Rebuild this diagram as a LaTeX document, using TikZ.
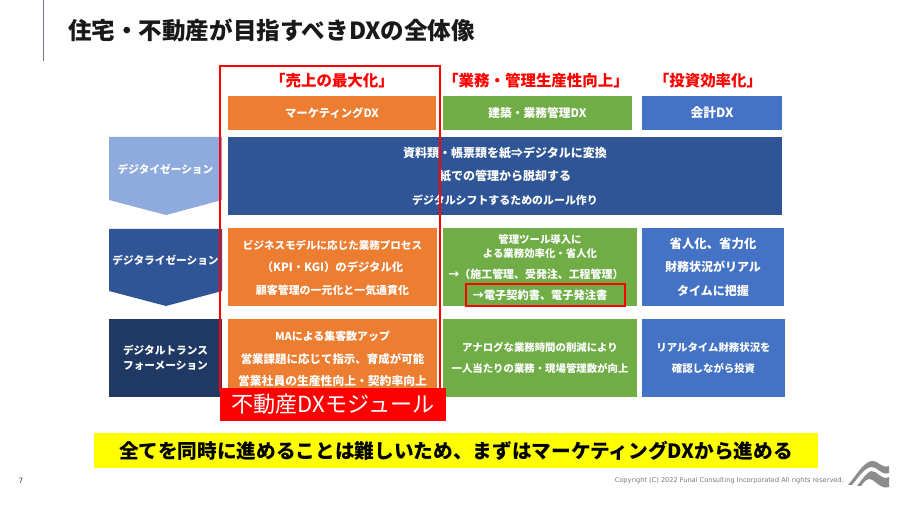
\documentclass[tikz,border=0pt]{standalone}
\usepackage{fontspec}
\setmainfont{Noto Sans CJK JP}
\newfontfamily\latinsmall{DejaVu Sans}
\definecolor{cOrange}{HTML}{ED7D31}
\definecolor{cGreen}{HTML}{70AD47}
\definecolor{cBlue}{HTML}{4472C4}
\definecolor{cDark}{HTML}{2F5597}
\definecolor{cNavy}{HTML}{1F3864}
\definecolor{cLight}{HTML}{8FAADC}
\definecolor{cRed}{HTML}{FF0000}
\definecolor{cYellow}{HTML}{FFFF00}
\definecolor{cRule}{HTML}{6F70A8}
\definecolor{cLogo}{HTML}{8C8C8C}
\definecolor{cCopy}{HTML}{777777}
\newcommand{\sz}[2]{{\fontsize{#1}{16.8}\selectfont #2}}
\tikzset{
  cell/.style n args={2}{inner sep=0pt,outer sep=0pt,minimum width=#1*0.75pt,minimum height=#2*0.75pt,text=white,align=center},
  hdr/.style={font=\fontsize{8.8}{11}\selectfont\bfseries},
  bodyA/.style={font=\fontsize{8.2}{16.8}\selectfont\bfseries},
  bodyB/.style={font=\fontsize{9}{17.6}\selectfont\bfseries},
  bodyC/.style={font=\fontsize{7.8}{16}\selectfont\bfseries},
  side/.style={text=white,inner sep=0pt,align=center,font=\fontsize{8}{11.3}\selectfont\bfseries},
  goal/.style={text=cRed,inner sep=0pt,font=\fontsize{11.6}{13}\selectfont\bfseries},
}
\begin{document}
\begin{tikzpicture}[x=0.75pt,y=-0.75pt]
\useasboundingbox (0,0) rectangle (900,509);
\fill[white] (0,0) rectangle (900,509);
% header
\coordinate (ruleTop) at (43.5,0);
\coordinate (ruleEnd) at (43.5,61);
\draw[cRule,line width=0.8pt] (ruleTop) -- (ruleEnd);
\node[anchor=west,inner sep=0pt,font=\fontsize{17.65}{20}\selectfont\bfseries,text=black!90] (title) at (68,30) {住宅・不動産が目指すべきDXの全体像};
% column headings
\node[goal] (g1) at (332,81) {「売上の最大化」};
\node[goal] (g2) at (536,81) {「業務・管理生産性向上」};
\node[goal] (g3) at (708,81) {「投資効率化」};
\node[cell={208}{34},fill=cOrange,hdr,font=\fontsize{8.5}{11}\selectfont\bfseries] (c1) at (332,113) {マーケティングDX};
\node[cell={189}{34},fill=cGreen,hdr] (c2) at (537.5,113) {建築・業務管理DX};
\node[cell={140}{34},fill=cBlue,hdr,font=\fontsize{9.6}{11}\selectfont\bfseries] (c3) at (712,113) {会計DX};
% side arrows
\fill[cLight] (109,137) -- (222,137) -- (222,200) -- (166,215) -- (109,200) -- cycle;
\node[side] (s1) at (165.5,169) {デジタイゼーション};
\fill[cDark] (109,229) -- (222,229) -- (222,291) -- (166,306) -- (109,291) -- cycle;
\node[side] (s2) at (165.5,260) {デジタライゼーション};
\node[cell={113}{78},fill=cNavy,side] (s3) at (165.5,358) {デジタルトランス\\フォーメーション};
% row 1
\node[cell={554}{78},fill=cDark,bodyB] (r1) at (505,176) {資料類・帳票類を紙⇒デジタルに変換\\紙での管理から脱却する\\\sz{8.2}{デジタルシフトするためのルール作り}};
% row 2
\node[cell={209}{78},fill=cOrange] (r2a) at (332.5,267) {};
\node[text=white,inner sep=0pt,align=center,bodyA] (r2at) at (332.5,268) {\sz{7.9}{ビジネスモデルに応じた業務プロセス}\\\sz{8.5}{（KPI・KGI）のデジタル化}\\顧客管理の一元化と一気通貫化};
\node[cell={194}{78},fill=cGreen] (r2b) at (540,267) {};
\node[text=white,inner sep=0pt,align=center,font=\fontsize{7.8}{10.5}\selectfont\bfseries] (r2b1) at (540,246.5) {管理ツール導入に\\よる業務効率化・省人化};
\node[text=white,inner sep=0pt,font=\fontsize{8.2}{10}\selectfont\bfseries] (r2b2) at (536,274) {→（施工管理、受発注、工程管理）};
\node[text=white,inner sep=0pt,font=\fontsize{8.4}{10}\selectfont\bfseries] (r2b3) at (540,295) {→電子契約書、電子発注書};
\node[cell={142}{78},fill=cBlue,bodyB] (r2c) at (713,267) {\sz{9.3}{省人化、省力化}\\財務状況がリアル\\タイムに把握};
% row 3
\node[cell={209}{78},fill=cOrange] (r3a) at (332.5,358) {};
\node[text=white,inner sep=0pt,align=center,bodyA] (r3at) at (332.5,359) {MAによる集客数アップ\\\sz{8.6}{営業課題に応じて指示、育成が可能}\\\sz{8.85}{営業社員の生産性向上・契約率向上}};
\node[cell={194}{78},fill=cGreen,bodyC] (r3b) at (540,358) {アナログな業務時間の削減により\\一人当たりの業務・現場管理数が向上};
\node[cell={143}{78},fill=cBlue,bodyC] (r3c) at (713.5,358) {リアルタイム財務状況を\\確認しながら投資};
% highlights
\node[draw=cRed,line width=1.5pt,inner sep=0pt,minimum width=159*0.75pt,minimum height=22*0.75pt] (hl) at (545.5,295) {};
\draw[cRed,line width=1.6pt] (220,392) |- (440,66) -- (440,392);
\node[cell={226}{33},fill=cRed,font=\fontsize{16.6}{19}\selectfont] (mod) at (333,404.5) {不動産DXモジュール};
\node[inner sep=0pt,outer sep=0pt,minimum width=724*0.75pt,minimum height=35*0.75pt,fill=cYellow,font=\fontsize{14.75}{17}\selectfont\bfseries,text=black] (msg) at (456,450.5) {全てを同時に進めることは難しいため、まずはマーケティングDXから進める};
% footer
\node[inner sep=0pt,font=\latinsmall\fontsize{5.5}{6}\selectfont,text=black!75] (pg) at (21,481) {7};
\node[anchor=east,inner sep=0pt,font=\latinsmall\fontsize{4.95}{6}\selectfont,text=cCopy] (copy) at (844,481) {Copyright (C) 2022 Funai Consulting Incorporated All rights reserved.};
% logo
\fill[cLogo] (848,485) .. controls (856,476) and (862,464) .. (871,461) .. controls (877,459) and (881,469) .. (889,466) -- (889,473) .. controls (881,476) and (877,466) .. (871,467) .. controls (864,468) and (858,478) .. (852,485) -- cycle;
\fill[cLogo] (857,486) .. controls (862,480) and (866,473) .. (871,471) .. controls (877,470) and (881,481) .. (889,477) -- (889,487) .. controls (880,490) and (875,479) .. (869,479) .. controls (865,480) and (863,483) .. (861,486) -- cycle;
\end{tikzpicture}
\end{document}
